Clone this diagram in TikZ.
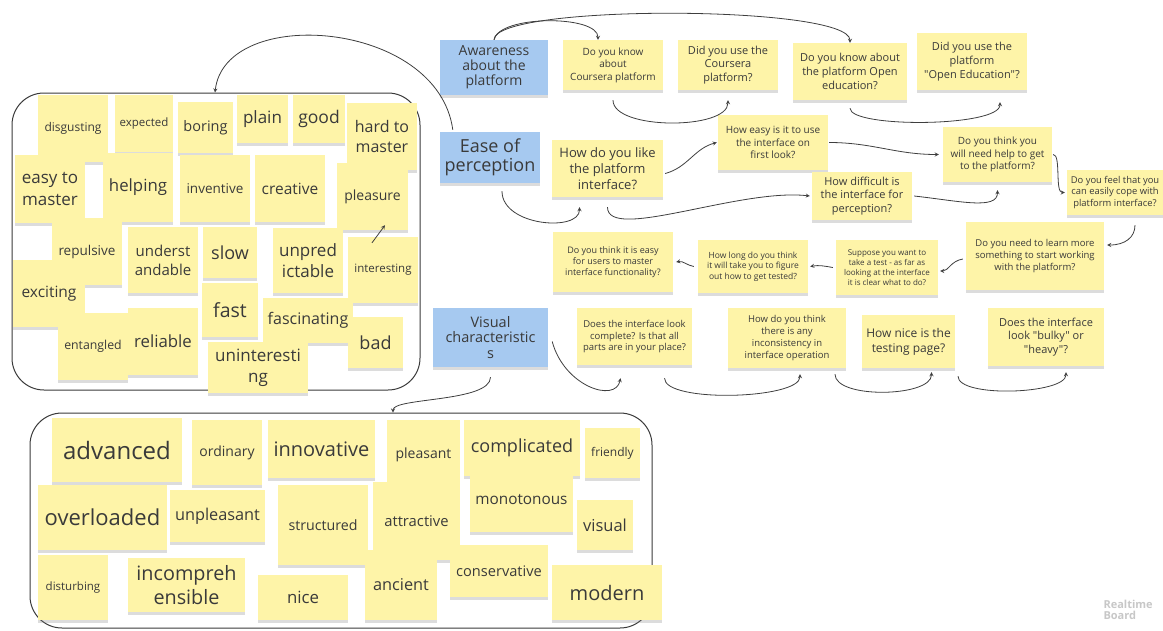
\documentclass[tikz,border=0pt]{standalone}
\usepackage{fontspec}
\setmainfont{Open Sans}[Ligatures=TeXOff]
\usetikzlibrary{arrows,shadows}
\definecolor{stick}{RGB}{254,244,168}
\definecolor{bluest}{RGB}{166,201,240}
\definecolor{ink}{RGB}{58,58,58}
\definecolor{wire}{RGB}{62,62,62}

\begin{document}
\begin{tikzpicture}[x=1pt,y=1pt,
  stk/.style n args={3}{fill=stick, minimum width=#1, minimum height=#2, inner sep=1pt, align=center, text=ink,
    font=\linespread{1.25}\fontsize{#3}{#3}\selectfont, drop shadow={shadow xshift=0pt,shadow yshift=-2.5pt,opacity=.28}},
  blu/.style n args={3}{stk={#1}{#2}{#3}, fill=bluest, font=\linespread{1.08}\fontsize{#3}{#3}\selectfont},
  grp/.style={draw=ink, line width=1pt, rounded corners=32pt, inner sep=0pt},
  arr/.style={-stealth, draw=wire, line width=.8pt}]
  \useasboundingbox (0,0) rectangle (1163,-630);

  \node[grp, minimum width=408, minimum height=297] (adjbox) at (216,-241.5) {};
  \node[grp, minimum width=622, minimum height=215] (visbox) at (341,-520.5) {};

  \node[stk={70}{67}{12}]   (disg) at (73,-128.5)  {disgusting};
  \node[stk={58}{57}{11.5}] (expe) at (144,-123.5) {expected};
  \node[stk={55}{51}{14.5}] (bori) at (205.5,-127.5) {boring};
  \node[stk={51}{48}{17}]   (plai) at (262.5,-119) {plain};
  \node[stk={52}{48}{17.5}] (good) at (319,-119)   {good};
  \node[stk={70}{67}{16}]   (hard) at (382,-136.5) {hard to\\master};
  \node[stk={70}{68}{17}]   (easy) at (50,-189)    {easy to\\master};
  \node[stk={70}{69}{16.8}] (help) at (138,-187.5) {helping};
  \node[stk={70}{67}{13.5}] (inve) at (215,-188.5) {inventive};
  \node[stk={70}{67}{15.5}] (crea) at (290,-188.5) {creative};
  \node[stk={71}{67}{14}]   (plea) at (372.5,-196.5) {pleasure};
  \node[stk={70}{67}{13.5}] (repu) at (87,-251.5)  {repulsive};
  \node[stk={70}{66}{15}]   (unde) at (163,-260)   {underst\\andable};
  \node[stk={54}{51}{18}]   (slow) at (230,-252.5) {slow};
  \node[stk={70}{65}{17}]   (unpr) at (308,-260.5) {unpred\\ictable};
  \node[stk={70}{66}{11.5}] (inte) at (383,-270)   {interesting};
  \node[stk={72}{67}{15.5}] (exci) at (49,-293.5)  {exciting};
  \node[stk={56}{54}{19.5}] (fast) at (230,-310)   {fast};
  \node[stk={90}{45}{16}]   (fasc) at (308,-320.5) {fascinating};
  \node[stk={70}{67}{12.3}] (enta) at (93,-346.5)  {entangled};
  \node[stk={70}{67}{16.8}] (reli) at (163,-341.5) {reliable};
  \node[stk={100}{51}{17}]  (unin) at (258,-367.5) {uninteresti\\ng};
  \node[stk={55}{51}{18}]   (bad)  at (375.5,-342.5) {bad};
  \draw[arr] ([shift={(-11,-6)}]inte.north) -- ([shift={(12.5,5)}]plea.south);

  \node[stk={130}{64}{24}]  (adva) at (117,-450)   {advanced};
  \node[stk={70}{65}{14}]   (ordi) at (227,-452.5) {ordinary};
  \node[stk={107}{58}{20}]  (inno) at (321.5,-449) {innovative};
  \node[stk={73}{70}{14}]   (plst) at (423.5,-455) {pleasant};
  \node[stk={116}{56}{18}]  (comp) at (522,-448)   {complicated};
  \node[stk={55}{50}{12}]   (frie) at (612.5,-453) {friendly};
  \node[stk={129}{65}{22}]  (over) at (102.5,-517.5) {overloaded};
  \node[stk={95}{52}{16.3}] (unpl) at (217.5,-516) {unpleasant};
  \node[stk={90}{80}{14.2}] (stru) at (323,-525)   {structured};
  \node[stk={87}{78}{14.8}] (attr) at (416.5,-521) {attractive};
  \node[stk={103}{64}{15.3}] (mono) at (521.5,-500) {monotonous};
  \node[stk={56}{50}{16.5}] (visu) at (605,-525)   {visual};
  \node[stk={70}{65}{11.5}] (dist) at (73,-587.5)  {disturbing};
  \node[stk={117}{54}{19.8}] (inco) at (186.5,-585) {incompreh\\ensible};
  \node[stk={90}{45}{16.8}] (nice) at (303,-597.5) {nice};
  \node[stk={72}{70}{16.3}] (anci) at (401,-585)   {ancient};
  \node[stk={98}{52}{14.6}] (cons) at (499,-571)   {conservative};
  \node[stk={110}{55}{20}]  (mode) at (607,-592.5) {modern};

  \node[blu={108}{55}{14}]   (awar) at (494,-67.5)  {Awareness\\about the\\platform};
  \node[blu={100}{51}{18}]   (ease) at (490,-157.5) {Ease of\\perception};
  \node[blu={115}{59}{14.5}] (visc) at (490.5,-337.5) {Visual\\characteristic\\s};

  \node[stk={100}{50}{10}]  (q1)  at (613,-65)    {Do you know\\about\\Coursera platform};
  \node[stk={100}{50}{11}]  (q2)  at (728,-65)    {Did you use the\\Coursera\\platform?};
  \node[stk={114}{57}{11}]  (q3)  at (850,-71.5)  {Do you know about\\the platform Open\\education?};
  \node[stk={110}{57}{11}]  (q4)  at (972,-61.5)  {Did you use the\\platform\\"Open Education"?};
  \node[stk={111}{57}{13}]  (q5)  at (607.5,-168.5) {How do you like\\the platform\\interface?};
  \node[stk={110}{55}{10}]  (q6)  at (773,-142.5) {How easy is it to use\\the interface on\\first look?};
  \node[stk={109}{55}{10}]  (q7)  at (997.5,-154.5) {Do you think you\\will need help to get\\to the platform?};
  \node[stk={100}{48}{11}]  (q8)  at (862,-196)   {How difficult is\\the interface for\\perception?};
  \node[stk={96}{45}{9.4}]  (q9)  at (1115,-192.5) {Do you feel that you\\can easily cope with\\platform interface?};
  \node[stk={138}{68}{9.5}] (q10) at (1035,-256)  {Do you need to learn more\\something to start working\\with the platform?};
  \node[stk={102}{55}{8}]   (q11) at (887,-267.5) {Suppose you want to\\take a test - as far as\\looking at the interface\\it is clear what to do?};
  \node[stk={110}{53}{8.5}] (q12) at (753,-266.5) {How long do you think\\it will take you to figure\\out how to get tested?};
  \node[stk={120}{60}{9}]   (q13) at (613,-262)   {Do you think it is easy\\for users to master\\interface functionality?};
  \node[stk={115}{57}{9.5}] (q14) at (634.5,-336.5) {Does the interface look\\complete? Is that all\\parts are in your place?};
  \node[stk={118}{60}{9.5}] (q15) at (787,-338)   {How do you think\\there is any\\inconsistency in\\interface operation};
  \node[stk={93}{53}{12}]   (q16) at (908.5,-341.5) {How nice is the\\testing page?};
  \node[stk={116}{58}{11}]  (q17) at (1046,-337)  {Does the interface\\look "bulky" or\\"heavy"?};

  \draw[arr] (awar.north) .. controls +(5,25) and +(0,25) .. ([xshift=-15]q1.north);
  \draw[arr] (awar.north) .. controls +(0,36) and +(0,38) .. (q3.north);
  \draw[arr] ([yshift=-10]q1.south) .. controls +(0,-30) and +(0,-30) .. ([yshift=-10]q2.south);
  \draw[arr] ([yshift=-8]q3.south) .. controls +(0,-20) and +(0,-25) .. ([shift={(28,-12)}]q4.south);
  \draw[arr] ([shift={(12,-8)}]ease.south) .. controls +(0,-35) and +(0,-25) .. ([shift={(-28,-10)}]q5.south);
  \draw[arr] ([shift={(2,-5)}]q5.east) to[out=15,in=195] ([xshift=-1]q6.west);
  \draw[arr] ([yshift=-10]q5.south) .. controls +(0,-35) and +(-70,8) .. ([xshift=-2]q8.west);
  \draw[arr] ([xshift=1]q6.east) to[out=0,in=180] ([xshift=-4]q7.west);
  \draw[arr] ([xshift=2]q8.east) .. controls +(45,-5) and +(0,-20) .. ([yshift=-8]q7.south);
  \draw[arr] ([xshift=1]q7.east) .. controls +(8,0) and +(-10,0) .. ([xshift=-2]q9.west);
  \draw[arr] ([shift={(20,-10)}]q9.south) .. controls +(0,-12) and +(18,0) .. ([shift={(3,11)}]q10.east);
  \draw[arr] ([shift={(-3,-3)}]q10.west) .. controls +(-12,-2) and +(8,0) .. ([shift={(2,-3.5)}]q11.east);
  \draw[arr] ([xshift=-3]q11.west) to[out=170,in=10] ([xshift=2]q12.east);
  \draw[arr] ([xshift=-4]q12.west) to[out=170,in=10] ([xshift=3]q13.east);
  \draw[arr] ([shift={(4,-4)}]visc.east) .. controls +(12,-45) and +(-5,-25) .. ([shift={(-14,-13)}]q14.south);
  \draw[arr] ([shift={(30,-13)}]q14.south) .. controls +(0,-25) and +(0,-25) .. ([shift={(13,-6)}]q15.south);
  \draw[arr] ([shift={(48,-6)}]q15.south) .. controls +(0,-25) and +(0,-25) .. ([shift={(23,-4)}]q16.south);
  \draw[arr] ([shift={(49.5,-8)}]q16.south) .. controls +(0,-22) and +(0,-22) .. ([shift={(20,-6)}]q17.south);
  \draw[arr] ([yshift=-10]visc.south) .. controls +(0,-25) and +(0,15) .. ([xshift=52]visbox.north);
  \draw[arr] ([shift={(13,2)}]ease.north west) .. controls +(-15,110) and +(10,88) .. ([xshift=-1]adjbox.north);

  \node[anchor=west, align=left, text=black!22, font=\bfseries\fontsize{11}{11}\selectfont] (wm) at (1100,-610) {Realtime\\Board};
\end{tikzpicture}
\end{document}
